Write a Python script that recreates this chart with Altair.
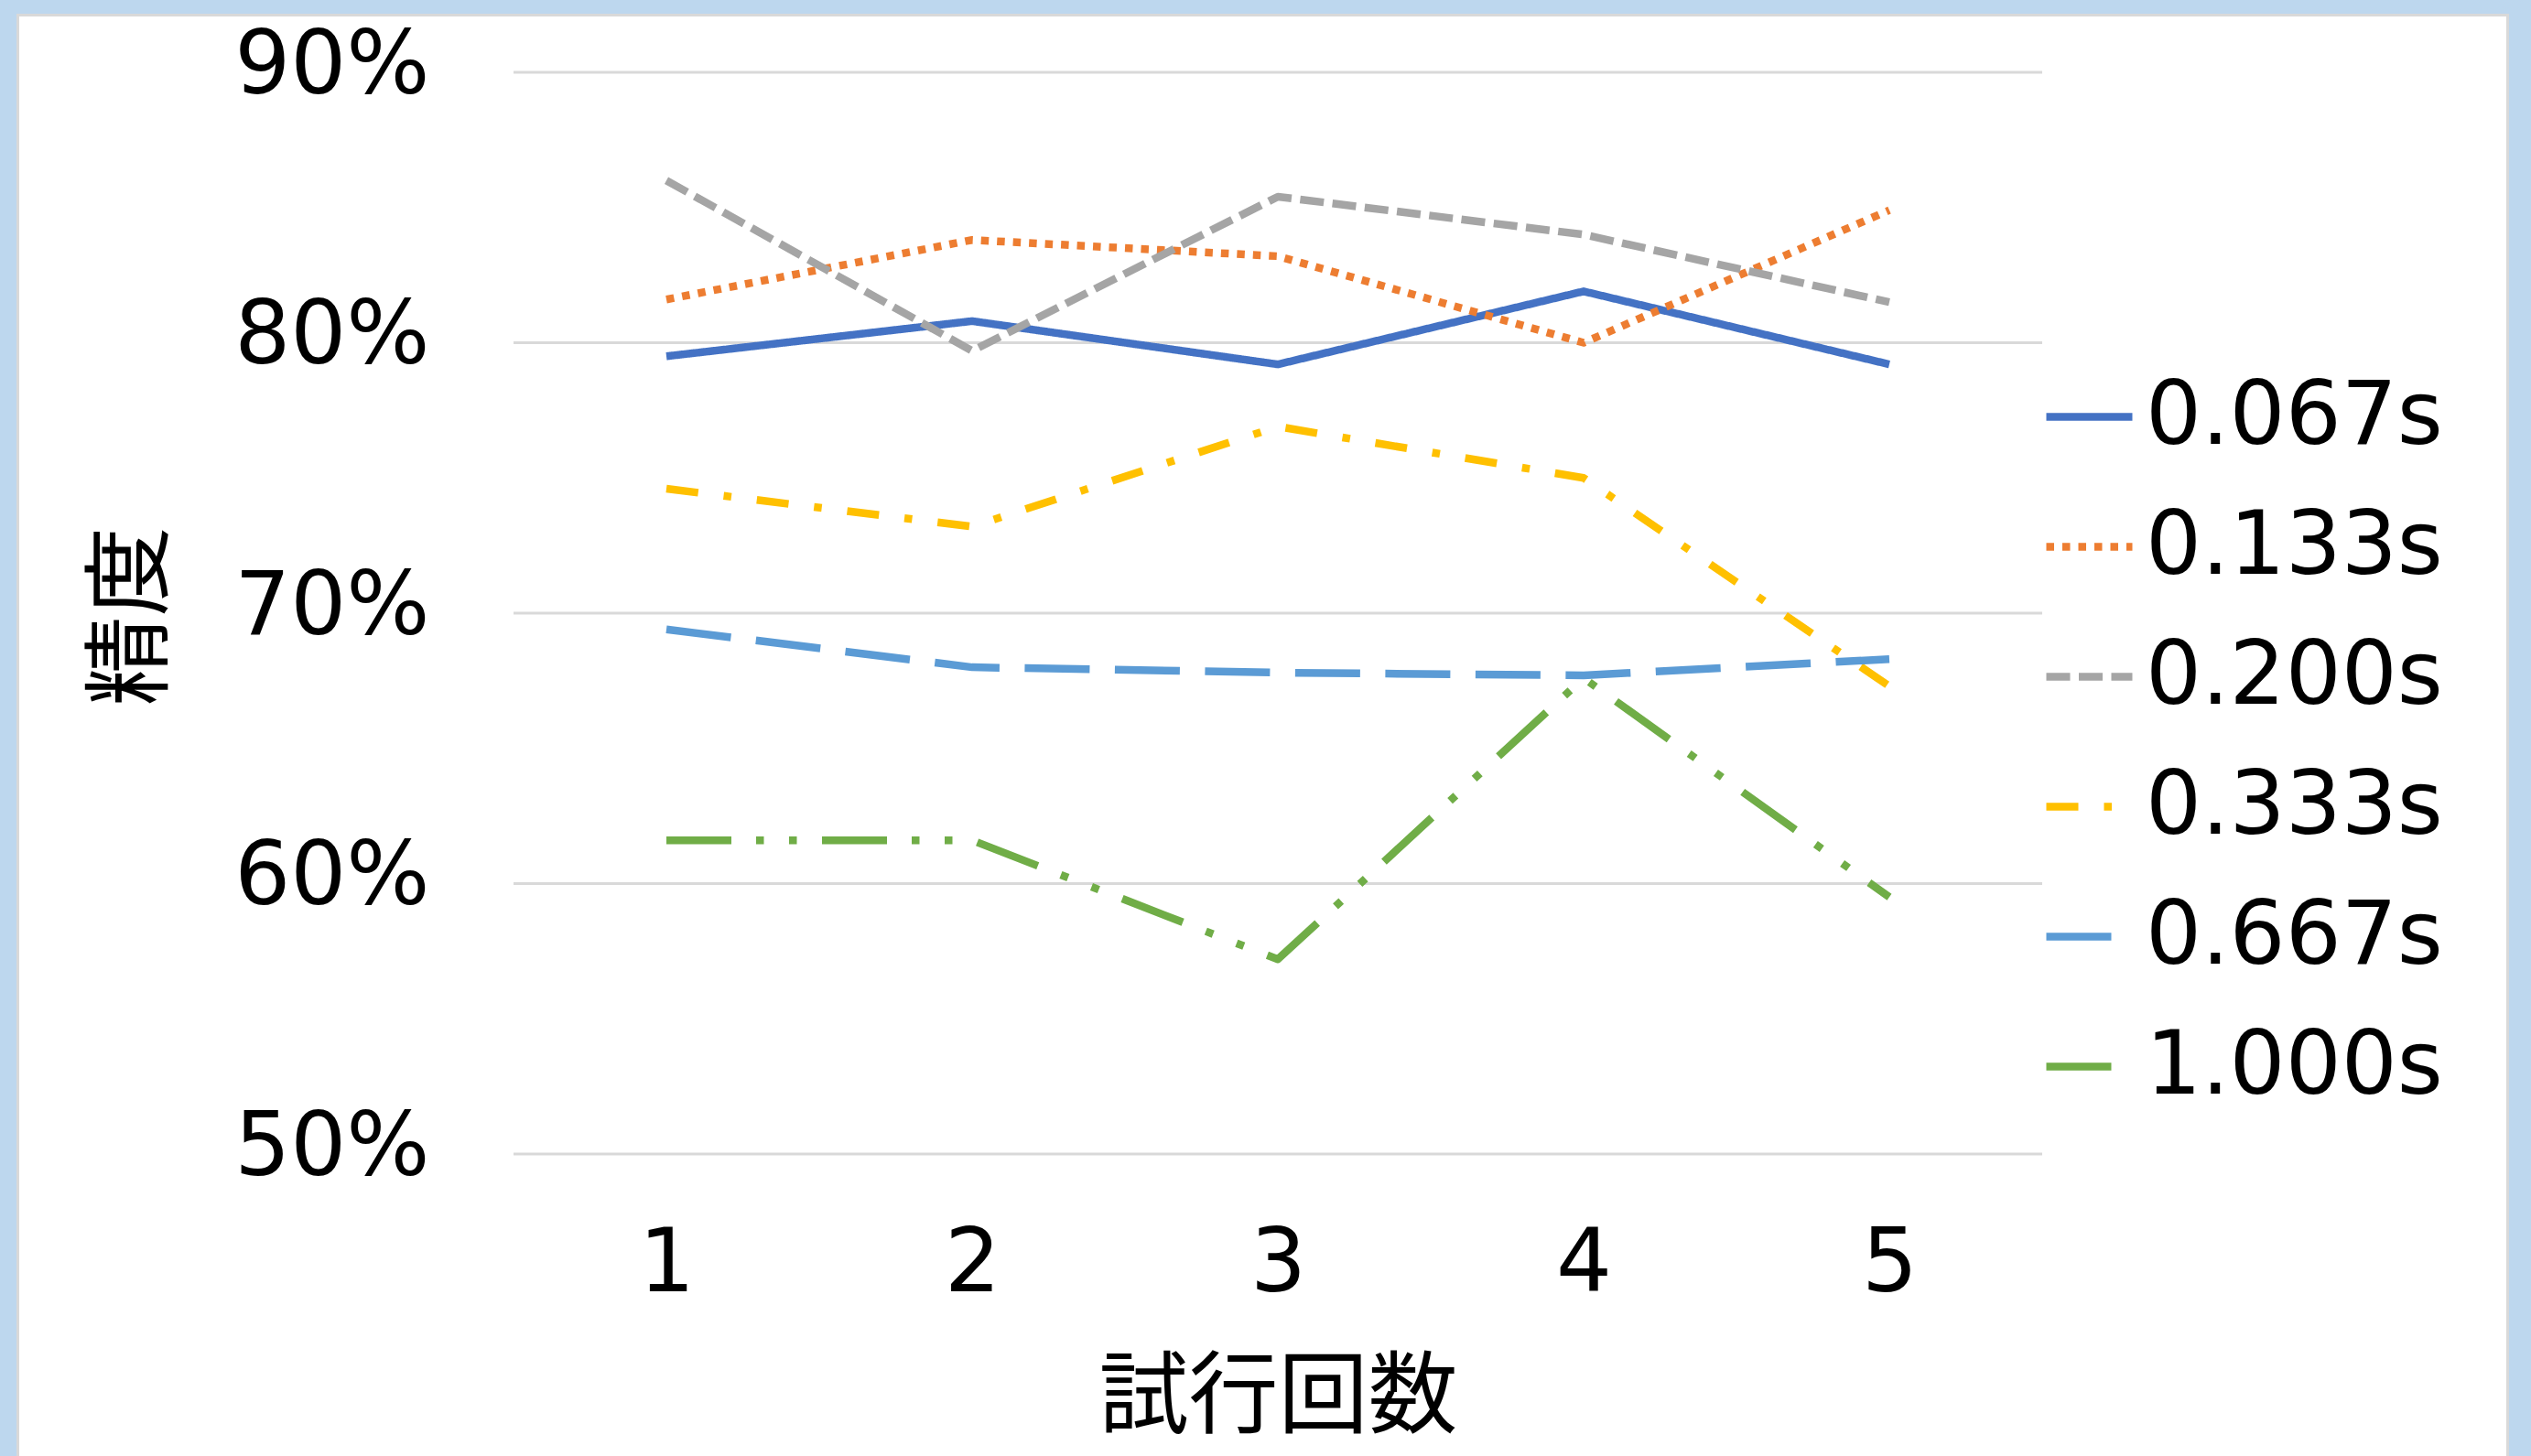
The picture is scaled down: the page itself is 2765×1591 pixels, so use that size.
import altair as alt
import pandas as pd

trials = [1, 2, 3, 4, 5]
series = ["0.067s", "0.133s", "0.200s", "0.333s", "0.667s", "1.000s"]
s067 = [79.5, 80.8, 79.2, 81.9, 79.2]
s133 = [81.6, 83.8, 83.2, 80.0, 84.9]
s200 = [86.0, 79.7, 85.4, 84.0, 81.5]
s333 = [74.6, 73.2, 76.9, 75.0, 67.3]
s667 = [69.4, 68.0, 67.8, 67.7, 68.3]
s1000 = [61.6, 61.6, 57.2, 67.6, 59.5]
y_ticks = [0.5, 0.6, 0.7, 0.8, 0.9]

colors = ["#4472C4", "#ED7D31", "#A5A5A5", "#FFC000", "#5B9BD5", "#70AD47"]
dashes = [[1, 0], [8.5, 9], [26, 9.5], [35, 28, 8.5, 28], [71, 27.5],
          [71, 27, 8.5, 27.5, 8.5, 27.5]]

rows = []
for name, vals in zip(series, [s067, s133, s200, s333, s667, s1000]):
    for t, v in zip(trials, vals):
        rows.append({"trial": t, "acc": v / 100.0, "series": name})
df = pd.DataFrame(rows)
grid_df = pd.DataFrame({"v": y_ticks})

W, H = 1670, 1182
LEFT, TOP = 561, 79
LW = 8.5

yscale = alt.Scale(domain=[0.5, 0.9], nice=False, zero=False)
xscale = alt.Scale(type="point", padding=0.5)

yaxis = alt.Axis(
    title="精度", values=y_ticks, format=".0%", labelFont="DejaVu Sans",
    labelFontSize=96, labelColor="#000000", labelPadding=92, labelLimit=0,
    labelOffset=-7,
    ticks=False, tickSize=0, domain=False, grid=False, zindex=2,
    titleFont="Noto Sans CJK JP", titleFontSize=98, titleColor="#000000",
    titleFontWeight="normal", titleAngle=270, titleX=-416, titleY=H / 2 + 3,
    titleAlign="center", titleBaseline="middle",
)

bg = alt.Chart(alt.Data(values=[{"a": 1}])).mark_rect(
    fill="white", stroke="#D9D9D9", strokeWidth=3
).encode(
    x=alt.value(19.5 - LEFT), x2=alt.value(2739.5 - LEFT),
    y=alt.value(16.5 - TOP), y2=alt.value(1700 - TOP),
)

grid = alt.Chart(grid_df).mark_rule(color="#D9D9D9", strokeWidth=3).encode(
    y=alt.Y("v:Q", scale=yscale, axis=yaxis)
)

legend = alt.Legend(
    title=None, orient="none", legendX=W, legendY=325, padding=0,
    symbolType="stroke", symbolSize=8836, symbolStrokeWidth=LW,
    labelFont="DejaVu Sans", labelFontSize=96, labelColor="#000000",
    labelOffset=10, rowPadding=42, labelLimit=0, zindex=2,
)

lines = alt.Chart(df).mark_line(strokeWidth=LW, strokeCap="butt", strokeJoin="round").encode(
    x=alt.X("trial:O", scale=xscale, axis=alt.Axis(
        title="試行回数", labelAngle=0, labelFont="DejaVu Sans", labelFontSize=96,
        labelColor="#000000", labelPadding=120, labelBaseline="middle", labelLimit=0,
        ticks=False, tickSize=0, domain=False, grid=False, zindex=2,
        titleFont="Noto Sans CJK JP", titleFontSize=98, titleColor="#000000",
        titleFontWeight="normal", titleY=267, titleBaseline="middle",
    )),
    y=alt.Y("acc:Q", scale=yscale, axis=yaxis),
    color=alt.Color("series:N", scale=alt.Scale(domain=series, range=colors), legend=legend),
    strokeDash=alt.StrokeDash("series:N", scale=alt.Scale(domain=series, range=dashes), legend=legend),
    detail="series:N",
)

chart = alt.layer(bg, grid, lines).properties(
    width=W, height=H,
    background="#BDD7EE",
    padding={"left": LEFT, "top": TOP, "right": 2765 - LEFT - W, "bottom": 1591 - TOP - H},
    autosize=alt.AutoSizeParams(type="none"),
).configure_view(stroke=None)

chart.save("out.html", embed_options={"renderer": "svg", "actions": False})
